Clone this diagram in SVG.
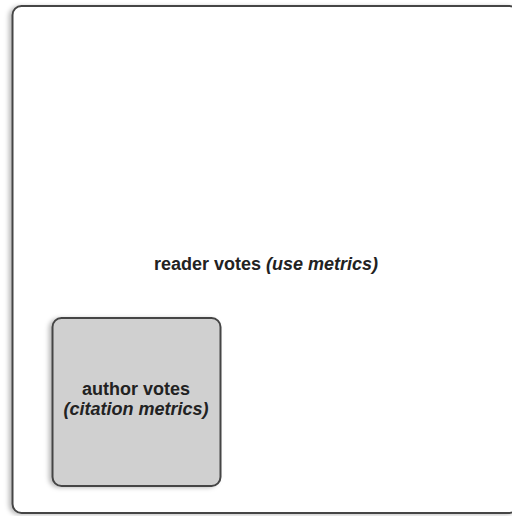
<svg xmlns="http://www.w3.org/2000/svg" width="512" height="516" viewBox="0 0 512 516">
  <defs>
    <filter id="shadow" x="-10%" y="-10%" width="120%" height="120%">
      <feDropShadow dx="-3" dy="1" stdDeviation="2" flood-color="#000" flood-opacity="0.25"/>
    </filter>
  </defs>
  <style>
    .box { stroke: #454545; stroke-width: 2; }
    .label { font-family: "Liberation Sans", Arial, sans-serif; font-size: 18px; font-weight: bold; fill: #222222; text-anchor: middle; }
    .em { font-style: italic; }
  </style>
  <rect width="512" height="516" fill="#ffffff"/>
  <g id="reader-votes">
    <rect class="box" x="12.5" y="6" width="506" height="507" rx="9" fill="#ffffff" filter="url(#shadow)"/>
    <text class="label" x="266" y="270">reader votes <tspan class="em">(use metrics)</tspan></text>
  </g>
  <g id="author-votes">
    <rect class="box" x="52.5" y="318" width="168" height="168" rx="9" fill="#d0d0d0" filter="url(#shadow)"/>
    <text class="label" x="136" y="395">author votes</text>
    <text class="label em" x="136" y="415">(citation metrics)</text>
  </g>
  <g id="connectors"/>
</svg>
